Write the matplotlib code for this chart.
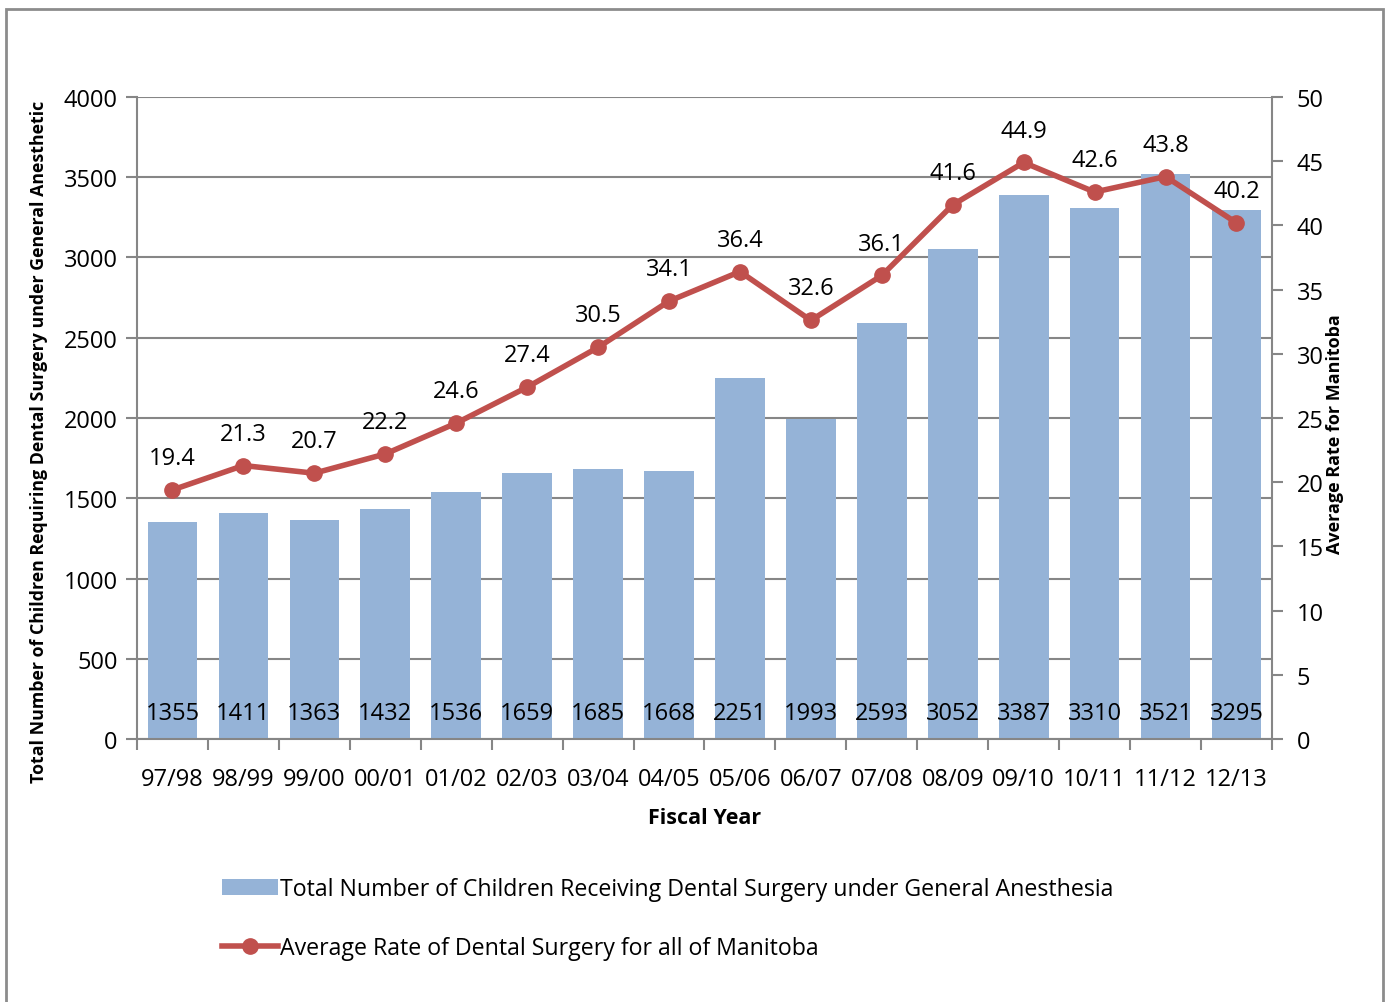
import numpy as np
import matplotlib
matplotlib.use("Agg")
import matplotlib.pyplot as plt
from matplotlib.patches import Rectangle

plt.rcParams['font.family'] = ['Open Sans', 'DejaVu Sans']

# data
years = ["97/98", "98/99", "99/00", "00/01", "01/02", "02/03", "03/04", "04/05",
         "05/06", "06/07", "07/08", "08/09", "09/10", "10/11", "11/12", "12/13"]
children = [1355, 1411, 1363, 1432, 1536, 1659, 1685, 1668,
            2251, 1993, 2593, 3052, 3387, 3310, 3521, 3295]
rate = [19.4, 21.3, 20.7, 22.2, 24.6, 27.4, 30.5, 34.1,
        36.4, 32.6, 36.1, 41.6, 44.9, 42.6, 43.8, 40.2]

bar_color = "#95B3D7"
line_color = "#C0504D"
grid_color = "#868686"
fs = 17

fig = plt.figure(figsize=(13.88, 10.03), dpi=100)
ax = fig.add_axes([0.0987, 0.2622, 0.8177, 0.6401])
ax2 = ax.twinx()

x = np.arange(len(years))
bars = ax.bar(x, children, width=0.7, color=bar_color, zorder=2,
              label="Total Number of Children Receiving Dental Surgery under General Anesthesia")
ax.set_xlim(-0.5, len(years) - 0.5)
ax.set_ylim(0, 4000)
ax.set_yticks(np.arange(0, 4001, 500))
ax.yaxis.grid(True, color=grid_color, linewidth=1.5, zorder=0)
ax.set_axisbelow(True)

# bar value labels at bottom
for xi, v in zip(x, children):
    ax.text(xi, 165, str(v), ha="center", va="center", fontsize=fs, zorder=5)

# x ticks between categories
ax.set_xticks(x)
ax.set_xticklabels(years, fontsize=fs)
ax.tick_params(axis="x", length=0, pad=20)
ax.set_xticks(np.arange(-0.5, len(years)), minor=True)
ax.tick_params(axis="x", which="minor", length=8, width=1.5, color=grid_color)
ax.tick_params(axis="y", length=8, width=1.5, color=grid_color, labelsize=fs, pad=6)

for s in ["top", "right"]:
    ax.spines[s].set_visible(False)
for s in ["left", "bottom"]:
    ax.spines[s].set_color(grid_color)
    ax.spines[s].set_linewidth(1.5)

ax.set_xlabel("Fiscal Year", fontsize=15.5, fontweight="bold", labelpad=12)
ax.set_ylabel("Total Number of Children Requiring Dental Surgery under General Anesthetic",
              fontsize=12.8, fontweight="bold")
ax.yaxis.set_label_coords(-0.078, 0.464)

# line on secondary axis
ax2.plot(x, rate, color=line_color, linewidth=4, marker="o", markersize=11, zorder=4,
         label="Average Rate of Dental Surgery for all of Manitoba")
ax2.set_ylim(0, 50)
ax2.set_yticks(np.arange(0, 51, 5))
ax2.tick_params(axis="y", length=8, width=1.5, color=grid_color, labelsize=fs, pad=10)
for s in ["top", "left", "bottom"]:
    ax2.spines[s].set_visible(False)
ax2.spines["right"].set_color(grid_color)
ax2.spines["right"].set_linewidth(1.5)
ax2.set_ylabel("Average Rate for Manitoba", fontsize=13, fontweight="bold")
ax2.yaxis.set_label_coords(1.0476, 0.477)

for xi, v in zip(x, rate):
    ax2.annotate(f"{v}", (xi, v), xytext=(0, 23), textcoords="offset points",
                 ha="center", va="center", fontsize=fs)

# legend below
h1, l1 = ax.get_legend_handles_labels()
h2, l2 = ax2.get_legend_handles_labels()
fig.legend(h1 + h2, l1 + l2, loc="upper left", bbox_to_anchor=(0.145, 0.145),
           frameon=False, fontsize=16.7, handlelength=2.4, handletextpad=0.1,
           labelspacing=1.5)

# outer frame
fig.patches.append(Rectangle((6 / 1388, -0.05), 1377 / 1388, 1 - 10 / 1003 + 0.05,
                             transform=fig.transFigure, fill=False,
                             edgecolor="#8c8c8c", linewidth=2))

fig.savefig("out.png", dpi=100)
